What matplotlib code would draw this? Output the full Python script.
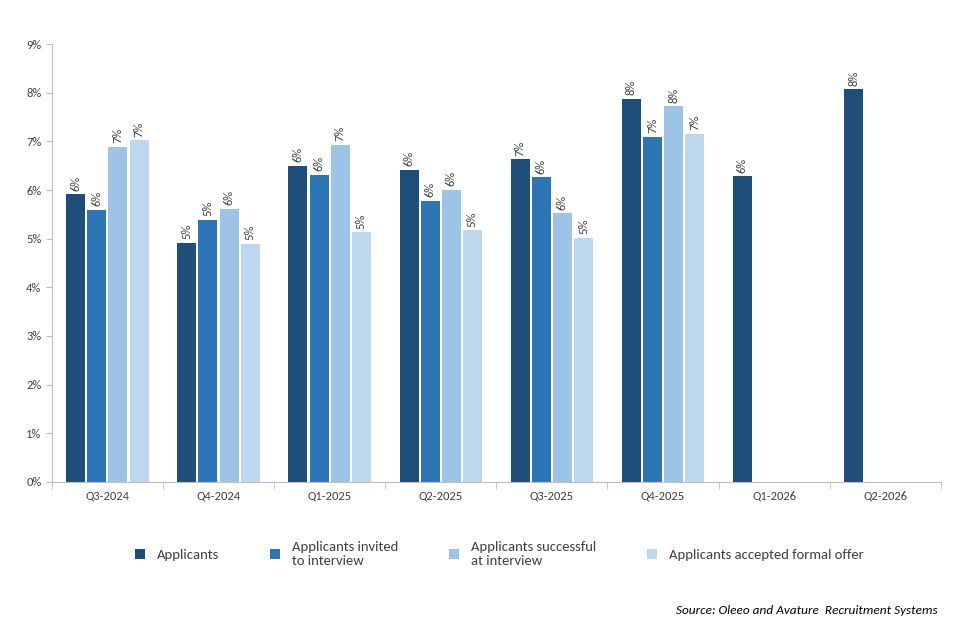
import matplotlib.pyplot as plt
import numpy as np

quarters = ['Q3-2024', 'Q4-2024', 'Q1-2025', 'Q2-2025', 'Q3-2025', 'Q4-2025', 'Q1-2026', 'Q2-2026']
series_names = ['Applicants', 'Applicants invited\nto interview', 'Applicants successful\nat interview',
                'Applicants accepted formal offer']
applicants = [5.91, 4.91, 6.49, 6.41, 6.63, 7.88, 6.28, 8.07]
invited = [5.59, 5.38, 6.32, 5.77, 6.26, 7.10, None, None]
successful = [6.88, 5.61, 6.92, 6.00, 5.52, 7.72, None, None]
accepted = [7.02, 4.89, 5.13, 5.17, 5.01, 7.15, None, None]
colors = ['#1f4e79', '#2e75b6', '#9dc3e6', '#bdd7ee']

plt.rcParams['font.family'] = ['Calibri', 'Carlito', 'Liberation Sans', 'DejaVu Sans']
fig = plt.figure(figsize=(9.6, 6.4), dpi=100)
ax = fig.add_axes([0.054, 0.247, 0.926, 0.684])

x = np.arange(len(quarters))
w = 0.19
offsets = [-1.5 * w, -0.5 * w, 0.5 * w, 1.5 * w]
handles = []
for vals, off, c, name in zip([applicants, invited, successful, accepted], offsets, colors, series_names):
    xs = [xi + off for xi, v in zip(x, vals) if v is not None]
    vs = [v for v in vals if v is not None]
    b = ax.bar(xs, vs, width=w * 0.9, color=c, label=name)
    handles.append(b)
    for xi, v in zip(xs, vs):
        ax.text(xi, v + 0.08, '%d%%' % round(v), rotation=90, ha='center', va='bottom',
                fontsize=9, color='#404040')

ax.set_xlim(-0.5, len(quarters) - 0.5)
ax.set_ylim(0, 9)
ax.set_yticks(range(10))
ax.set_yticklabels(['%d%%' % i for i in range(10)], fontsize=9, color='#404040')
ax.set_xticks(x)
ax.set_xticklabels(quarters, fontsize=9, color='#404040')
ax.tick_params(axis='x', length=0, pad=6)
ax.set_xticks(np.arange(-0.5, len(quarters)), minor=True)
ax.tick_params(axis='x', which='minor', length=5, color='#bfbfbf')
ax.tick_params(axis='y', length=4, color='#bfbfbf')
for s in ['top', 'right']:
    ax.spines[s].set_visible(False)
for s in ['left', 'bottom']:
    ax.spines[s].set_color('#bfbfbf')

fig.legend(handles=handles, loc='upper center', bbox_to_anchor=(0.52, 0.175), ncol=4,
           frameon=False, fontsize=10.5, handlelength=0.7, handleheight=0.7,
           columnspacing=3.5, labelcolor='#404040')
fig.text(0.977, 0.04, 'Source: Oleeo and Avature  Recruitment Systems', ha='right', style='italic',
         fontsize=9.5, color='black')
fig.savefig('out.png')
